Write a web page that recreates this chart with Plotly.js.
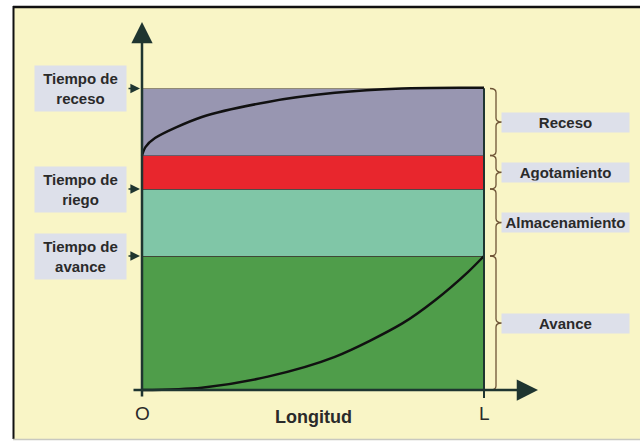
<!DOCTYPE html>
<html><head><meta charset="utf-8">
<script src="https://cdn.plot.ly/plotly-3.0.1.min.js"></script>
<style>html,body{margin:0;padding:0;background:#fff}</style>
</head><body><div id="chart" style="width:640px;height:441px"></div>
<script>
// ---- data ----
const phases = ['Avance', 'Almacenamiento', 'Agotamiento', 'Receso'];
const phaseDurations = [4, 2, 1, 2];
const phaseColors = ['#4f9d4a', '#80c6a7', '#e8262d', '#9896b1'];
const timeLabels = ['Tiempo de<br>avance', 'Tiempo de<br>riego', 'Tiempo de<br>receso'];
const timeValues = [4, 6, 9];
const advanceX = [0, 0.175, 0.368, 0.564, 0.760, 0.857, 0.953, 1.0];
const advanceT = [0, 0.07, 0.40, 0.99, 1.98, 2.68, 3.52, 4.0];
const recessionX = [0, 0.01, 0.038, 0.175, 0.368, 0.564, 0.760, 0.953, 1.0];
const recessionT = [7.0, 7.25, 7.52, 8.15, 8.6, 8.87, 9.0, 9.02, 9.02];
const xTickLabels = ['O', 'L'];
const xTickValues = [0, 1];
const xAxisTitle = 'Longitud';

// ---- styling ----
const W = 640, H = 441;
const X0PX = 142, LPX = 342;         // pixel of x=0, pixels per unit length
const Y0PX = 390, TPX = 33.5;        // pixel of t=0, pixels per unit time
const axisColor = '#1f3530';
const textColor = '#2a2a2a';
const boxColor = '#dde0ea';
const yellow = '#f9f5c6';
const FONT = 'Liberation Sans, Arial, sans-serif';

const px2x = p => (p - X0PX) / LPX;
const py2t = p => (Y0PX - p) / TPX;

// band bases (cumulative)
const bases = [];
let acc = 0;
phaseDurations.forEach(d => { bases.push(acc); acc += d; });
const tEnd = acc;

const traces = phases.map((p, i) => ({
  type: 'bar', x: [0.5], y: [phaseDurations[i]], width: [1],
  marker: {color: phaseColors[i], line: {color: 'rgba(60,50,50,0.55)', width: 1}},
  name: p, hoverinfo: 'skip', showlegend: false
}));
traces.push({
  type: 'scatter', mode: 'lines', x: advanceX, y: advanceT,
  line: {color: '#111', width: 2.5, shape: 'spline', smoothing: 0.8}, hoverinfo: 'skip', showlegend: false
});
traces.push({
  type: 'scatter', mode: 'lines', x: recessionX, y: recessionT,
  line: {color: '#111', width: 2.5, shape: 'spline', smoothing: 0.8}, hoverinfo: 'skip', showlegend: false
});

// braces
function bracePath(t0, t1) {
  const hx = 1 + 6 / LPX, sx = 1 + 12 / LPX, tx = 1 + 18 / LPX;
  const r = 4 / TPX, m = (t0 + t1) / 2;
  return `M${hx},${t1} Q${sx},${t1} ${sx},${t1 - r} L${sx},${m + r} Q${sx},${m} ${tx},${m} ` +
         `Q${sx},${m} ${sx},${m - r} L${sx},${t0 + r} Q${sx},${t0} ${hx},${t0}`;
}

const shapes = [
  {type: 'rect', xref: 'paper', yref: 'paper', x0: 13 / W, x1: 1, y0: 1 - 439 / H, y1: 1 - 7 / H,
   fillcolor: yellow, line: {width: 0}, layer: 'below'},
  {type: 'line', xref: 'paper', yref: 'paper', x0: 13.5 / W, x1: 13.5 / W, y0: 1 - 439 / H, y1: 1 - 6 / H,
   line: {color: '#111', width: 2}, layer: 'below'},
  {type: 'line', xref: 'paper', yref: 'paper', x0: 13 / W, x1: 1, y0: 1 - 7 / H, y1: 1 - 7 / H,
   line: {color: '#111', width: 2.5}, layer: 'below'},
  {type: 'line', xref: 'paper', yref: 'paper', x0: 13 / W, x1: 1, y0: 1 - 439.5 / H, y1: 1 - 439.5 / H,
   line: {color: '#c8c8c0', width: 1.5}, layer: 'below'},
  // vertical at L
  {type: 'line', xref: 'x', yref: 'y', x0: 1, x1: 1, y0: py2t(398), y1: tEnd,
   line: {color: axisColor, width: 2}},
];
phases.forEach((p, i) => {
  shapes.push({type: 'path', xref: 'x', yref: 'y', path: bracePath(bases[i], bases[i] + phaseDurations[i]),
    line: {color: '#6e5436', width: 1.3}});
});

const annotations = [];
// y axis arrow
annotations.push({x: 0, y: py2t(22), ax: 0, ay: py2t(398), xref: 'x', yref: 'y', axref: 'x', ayref: 'y',
  text: '', showarrow: true, arrowhead: 2, arrowsize: 1.7, arrowwidth: 2.5, arrowcolor: axisColor});
// x axis arrow
annotations.push({x: px2x(538), y: 0, ax: px2x(132), ay: 0, xref: 'x', yref: 'y', axref: 'x', ayref: 'y',
  text: '', showarrow: true, arrowhead: 2, arrowsize: 1.7, arrowwidth: 2.5, arrowcolor: axisColor});
// left labels and small arrows
timeLabels.forEach((lab, i) => {
  annotations.push({x: px2x(80.5), y: timeValues[i], xref: 'x', yref: 'y', text: '<b>' + lab + '</b>',
    showarrow: false, bgcolor: boxColor, width: 88, height: 42, borderpad: 1.5,
    font: {family: FONT, size: 15, color: textColor}});
  annotations.push({x: px2x(140), y: timeValues[i], ax: px2x(127), ay: timeValues[i],
    xref: 'x', yref: 'y', axref: 'x', ayref: 'y', text: '', showarrow: true,
    arrowhead: 2, arrowsize: 1.2, arrowwidth: 1.6, arrowcolor: axisColor});
});
// right labels
phases.forEach((p, i) => {
  annotations.push({x: px2x(565.5), y: bases[i] + phaseDurations[i] / 2, xref: 'x', yref: 'y',
    text: '<b>' + p + '</b>', showarrow: false, bgcolor: boxColor, width: 124, height: 16, borderpad: 1.5,
    font: {family: FONT, size: 15, color: textColor}});
});
// tick labels
xTickLabels.forEach((lab, i) => {
  annotations.push({x: xTickValues[i], y: py2t(413), xref: 'x', yref: 'y', text: lab, showarrow: false,
    font: {family: FONT, size: 19, color: textColor}});
});
annotations.push({x: px2x(313.5), y: py2t(417), xref: 'x', yref: 'y', text: '<b>' + xAxisTitle + '</b>',
  showarrow: false, font: {family: FONT, size: 18, color: textColor}});

const layout = {
  width: W, height: H, margin: {l: 0, r: 0, t: 0, b: 0, pad: 0},
  paper_bgcolor: '#ffffff', plot_bgcolor: 'rgba(0,0,0,0)',
  barmode: 'stack', bargap: 0, showlegend: false,
  xaxis: {range: [px2x(0), px2x(W)], visible: false, fixedrange: true},
  yaxis: {range: [py2t(H), py2t(0)], visible: false, fixedrange: true},
  shapes: shapes, annotations: annotations
};

Plotly.newPlot('chart', traces, layout, {staticPlot: true, displayModeBar: false});
</script></body></html>
